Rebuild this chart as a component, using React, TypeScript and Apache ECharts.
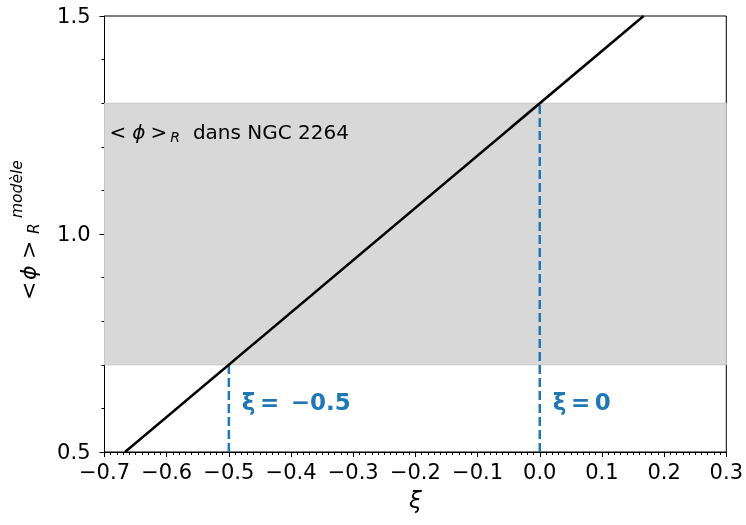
import React, { useEffect, useRef } from 'react';
import * as echarts from 'echarts';

// Data
const modelLine: number[][] = [[-0.667, 0.5], [0.167, 1.5]];
const bandRange: number[] = [0.7, 1.3];
const xiMarkers: number[] = [-0.5, 0];
const xiMarkerTops: number[] = [0.7, 1.3];
const xiLabels: string[] = ['ξ\u2009=\u2002−0.5', 'ξ\u2009=\u20090'];
const xiLabelY: number = 0.615;
const bandLabelPos: number[] = [-0.7, 1.234];
const xRange: number[] = [-0.7, 0.3];
const yRange: number[] = [0.5, 1.5];

const FONT = 'DejaVu Sans';
const BLUE = '#1f77b4';

const fmt = (v: number) => v.toFixed(1).replace('-', '−');

export default function App() {
  const ref = useRef<HTMLDivElement>(null);
  useEffect(() => {
    if (!ref.current) return;
    const chart = echarts.init(ref.current, null, { renderer: 'svg' });
    const dashSeries = xiMarkers.map((x, i) => ({
      type: 'line',
      data: [[x, yRange[0]], [x, xiMarkerTops[i]]],
      symbol: 'none',
      lineStyle: { color: BLUE, width: 2.5, type: [9, 4] },
      z: 3,
    }));
    chart.setOption({
      animation: false,
      textStyle: { fontFamily: FONT },
      grid: { left: 104.5, right: 16, top: 16, bottom: 73, show: true, borderColor: '#000', borderWidth: 1, backgroundColor: 'transparent' },
      xAxis: {
        type: 'value', min: xRange[0], max: xRange[1], interval: 0.1,
        axisLine: { show: true, onZero: false, lineStyle: { color: '#000', width: 1 } },
        axisTick: { show: true, inside: false, length: 5, lineStyle: { color: '#000' } },
        minorTick: { show: true, splitNumber: 10, length: 3, lineStyle: { color: '#000' } },
        splitLine: { show: false },
        axisLabel: { color: '#000', fontSize: 21, fontFamily: FONT, margin: 9, formatter: fmt },
        name: 'ξ', nameLocation: 'middle', nameGap: 36,
        nameTextStyle: { color: '#000', fontSize: 23, fontStyle: 'italic', fontFamily: FONT },
      },
      yAxis: {
        type: 'value', min: yRange[0], max: yRange[1], interval: 0.5,
        axisLine: { show: true, onZero: false, lineStyle: { color: '#000', width: 1 } },
        axisTick: { show: true, inside: false, length: 5, lineStyle: { color: '#000' } },
        minorTick: { show: true, splitNumber: 5, length: 3, lineStyle: { color: '#000' } },
        splitLine: { show: false },
        axisLabel: { color: '#000', fontSize: 21, fontFamily: FONT, margin: 14, formatter: fmt },
      },
      series: [
        {
          type: 'line', data: [], z: 1,
          markArea: {
            silent: true,
            itemStyle: { color: '#d8d8d8', borderColor: '#c6c6c6', borderWidth: 1 },
            data: [[{ yAxis: bandRange[0] }, { yAxis: bandRange[1] }]],
          },
        },
        ...dashSeries,
        {
          type: 'line', data: modelLine, symbol: 'none', z: 4,
          lineStyle: { color: '#000', width: 2.5 },
        },
        {
          type: 'scatter', symbolSize: 0, z: 5, itemStyle: { opacity: 1 },
          data: xiMarkers.map((x, i) => ({
            value: [x, xiLabelY],
            label: {
              show: true, position: 'right', distance: 13, formatter: xiLabels[i],
              color: BLUE, fontWeight: 'bold', fontSize: 23, fontFamily: FONT,
            },
          })),
        },
        {
          type: 'scatter', symbolSize: 0, z: 5, itemStyle: { opacity: 1 },
          data: [{
            value: bandLabelPos,
            label: {
              show: true, position: 'right', distance: 5,
              formatter: '{a|<}{i|ϕ}{a|>}{s|R}{a|dans NGC 2264}',
              rich: {
                a: { fontSize: 20, color: '#000', fontFamily: FONT },
                i: { fontSize: 20, color: '#000', fontFamily: FONT, fontStyle: 'italic', padding: [0, 5, 0, 6] },
                s: { fontSize: 14, color: '#000', fontFamily: FONT, fontStyle: 'italic', padding: [10, 13, 0, 3] },
              },
            },
          }],
        },
      ],
      graphic: [
        {
          type: 'group', x: 28, y: 298, rotation: Math.PI / 2,
          children: [
            { type: 'text', x: -2, y: 0, style: { text: '<', fontSize: 22, fontFamily: FONT, fill: '#000', textVerticalAlign: 'middle' } },
            { type: 'text', x: 18, y: 0, style: { text: 'ϕ', fontSize: 22, fontStyle: 'italic', fontFamily: FONT, fill: '#000', textVerticalAlign: 'middle' } },
            { type: 'text', x: 39, y: 0, style: { text: '>', fontSize: 22, fontFamily: FONT, fill: '#000', textVerticalAlign: 'middle' } },
            { type: 'text', x: 80, y: -11, style: { text: 'modèle', fontSize: 15.5, fontStyle: 'italic', fontFamily: FONT, fill: '#000', textVerticalAlign: 'middle' } },
            { type: 'text', x: 64, y: 6, style: { text: 'R', fontSize: 15.5, fontStyle: 'italic', fontFamily: FONT, fill: '#000', textVerticalAlign: 'middle' } },
          ],
        },
      ],
    });
    return () => chart.dispose();
  }, []);
  return <div ref={ref} style={{ position: 'fixed', left: 0, top: 0, width: 746, height: 525 }} />;
}
